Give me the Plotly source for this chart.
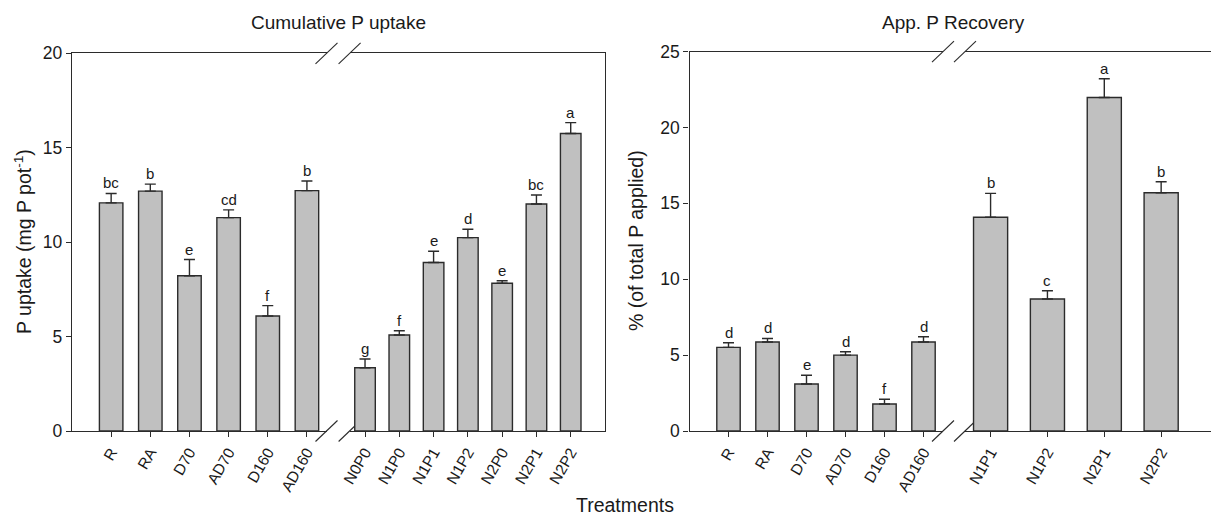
import plotly.graph_objects as go

# ---------------- data ----------------
cats_a = ["R", "RA", "D70", "AD70", "D160", "AD160"]
cats_b = ["N0P0", "N1P0", "N1P1", "N1P2", "N2P0", "N2P1", "N2P2"]
cats_c = ["N1P1", "N1P2", "N2P1", "N2P2"]

uptake_a = [12.08, 12.70, 8.22, 11.30, 6.09, 12.73]
uptake_a_err = [0.50, 0.37, 0.86, 0.41, 0.55, 0.51]
uptake_a_lbl = ["bc", "b", "e", "cd", "f", "b"]

uptake_b = [3.35, 5.08, 8.92, 10.24, 7.82, 12.02, 15.75]
uptake_b_err = [0.46, 0.23, 0.60, 0.44, 0.14, 0.48, 0.58]
uptake_b_lbl = ["g", "f", "e", "d", "e", "bc", "a"]

recov_a = [5.51, 5.86, 3.10, 5.00, 1.78, 5.86]
recov_a_err = [0.31, 0.24, 0.57, 0.22, 0.31, 0.35]
recov_a_lbl = ["d", "d", "e", "d", "f", "d"]

recov_c = [14.08, 8.70, 21.98, 15.70]
recov_c_err = [1.58, 0.54, 1.23, 0.72]
recov_c_lbl = ["b", "c", "a", "b"]

uptake_ticks = [0, 5, 10, 15, 20]
recov_ticks = [0, 5, 10, 15, 20, 25]

# ---------------- layout helpers ----------------
W, H = 1219, 516
OFF = 8  # the page body margin shifts the figure by this many pixels
FONT = "Liberation Sans, Arial, Helvetica, sans-serif"
TXT = "#1a1a1a"
LINE = "#2b2b2b"
BAR = "#c0c0c0"

def fx(px):
    return (px - OFF) / W

def fy(py):
    return 1 - (py - OFF) / H

# pixel positions (in the window) of the panel pieces
L_seg1 = (72.0, 326.5)
L_seg2 = (349.6, 605.0)
R_seg1 = (689.5, 943.0)
R_seg2 = (965.0, 1218.0)
L_top, R_top, BOT = 53.3, 51.6, 431.0

fig = go.Figure()

def add_bars(cats, vals, errs, lbls, xa, ya):
    fig.add_trace(go.Bar(
        x=cats, y=vals, xaxis=xa, yaxis=ya, width=0.6,
        marker=dict(color=BAR, line=dict(color=LINE, width=1.4)),
        error_y=dict(type="data", array=errs, arrayminus=[0] * len(errs),
                     symmetric=False, color=LINE, thickness=1.4, width=5.5),
        showlegend=False, hoverinfo="x+y",
    ))
    for c, v, e, t in zip(cats, vals, errs, lbls):
        fig.add_annotation(x=c, y=v + e, xref=xa, yref=ya, text=t,
                           showarrow=False, xanchor="center", yanchor="bottom",
                           yshift=0, font=dict(family=FONT, size=15, color=TXT))

add_bars(cats_a, uptake_a, uptake_a_err, uptake_a_lbl, "x", "y")
add_bars(cats_b, uptake_b, uptake_b_err, uptake_b_lbl, "x2", "y2")
add_bars(cats_a, recov_a, recov_a_err, recov_a_lbl, "x3", "y3")
add_bars(cats_c, recov_c, recov_c_err, recov_c_lbl, "x4", "y4")

def xaxis(dom, rng, anchor):
    return dict(domain=[fx(dom[0]), fx(dom[1])], range=rng, anchor=anchor,
                type="category", showline=True, linecolor=LINE, linewidth=1.4,
                mirror=True, ticks="outside", ticklen=5, tickwidth=1.2,
                tickcolor=LINE, tickangle=-60, showgrid=False, zeroline=False,
                automargin=False,
                tickfont=dict(family=FONT, size=15.5, color=TXT))

def yaxis_main(top, rng, tv, anchor):
    return dict(domain=[fy(BOT), fy(top)], range=rng, anchor=anchor,
                showline=True, linecolor=LINE, linewidth=1.4, mirror=False,
                ticks="outside", ticklen=5, tickwidth=1.2, tickcolor=LINE,
                tickvals=tv, showgrid=False, zeroline=False, automargin=False,
                tickfont=dict(family=FONT, size=17.5, color=TXT))

def yaxis_side(top, rng, anchor, match):
    return dict(domain=[fy(BOT), fy(top)], range=rng, anchor=anchor,
                side="right", showline=True, linecolor=LINE, linewidth=1.3,
                showticklabels=False, ticks="", showgrid=False,
                zeroline=False, automargin=False, matches=match)

fig.update_layout(
    template="none",
    width=W, height=H, autosize=False,
    margin=dict(l=0, r=0, t=0, b=0, pad=0),
    paper_bgcolor="white", plot_bgcolor="white",
    xaxis=xaxis(L_seg1, [-1.0, 5.5], "y"),
    xaxis2=xaxis(L_seg2, [-0.45, 7.0], "y2"),
    xaxis3=xaxis(R_seg1, [-1.0, 5.5], "y3"),
    xaxis4=xaxis(R_seg2, [-0.45, 4.0], "y4"),
    yaxis=yaxis_main(L_top, [0, 20], uptake_ticks, "x"),
    yaxis2=yaxis_side(L_top, [0, 20], "x2", "y"),
    yaxis3=yaxis_main(R_top, [0, 25], recov_ticks, "x3"),
    yaxis4=yaxis_side(R_top, [0, 25], "x4", "y3"),
)

# axis break marks (//) at the gaps between segments
shapes = []
for (a_end, b_start, top) in [(L_seg1[1], L_seg2[0], L_top), (R_seg1[1], R_seg2[0], R_top)]:
    for yy in (top, BOT):
        for xx in (a_end, b_start):
            shapes.append(dict(type="line", xref="paper", yref="paper",
                               x0=fx(xx - 11), y0=fy(yy + 10.5),
                               x1=fx(xx + 11), y1=fy(yy - 10.5),
                               line=dict(color=LINE, width=1.1), layer="below"))
fig.update_layout(shapes=shapes)

def label(text, px, py, size, angle=0):
    fig.add_annotation(text=text, xref="paper", yref="paper",
                       x=fx(px), y=fy(py), showarrow=False, textangle=angle,
                       xanchor="center", yanchor="middle",
                       font=dict(family=FONT, size=size, color=TXT))

label("Cumulative P uptake", 338, 22, 19)
label("App. P Recovery", 953, 22, 19)
label("P uptake (mg P pot<sup>-1</sup>)", 23, 242, 19.5, -90)
label("% (of total P applied)", 636, 241, 19.5, -90)
label("Treatments", 625, 505, 19.5)

fig.write_html("out.html")
